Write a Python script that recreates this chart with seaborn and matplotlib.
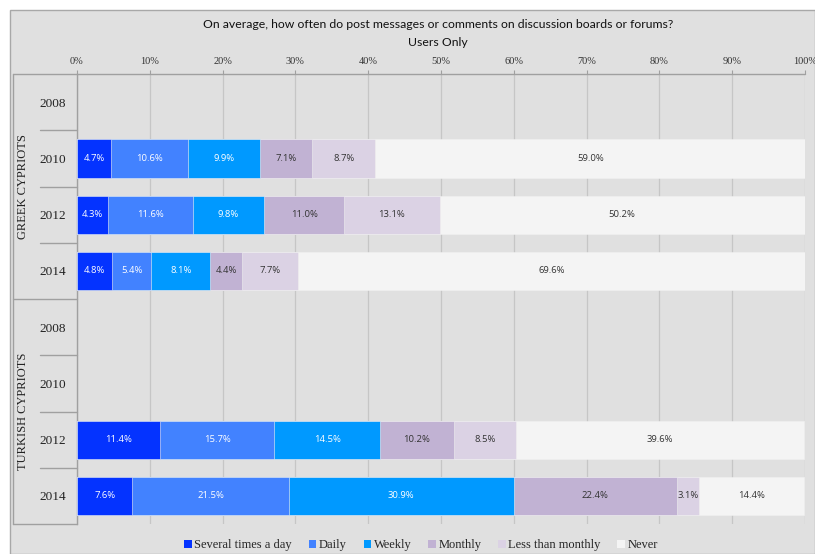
import matplotlib
matplotlib.use("Agg")
import matplotlib.pyplot as plt
from matplotlib.patches import Patch, Rectangle
from matplotlib.lines import Line2D
import numpy as np
import pandas as pd
import seaborn as sns

# ---- data ----
groups = ["GREEK CYPRIOTS", "TURKISH CYPRIOTS"]
years = ["2008", "2010", "2012", "2014"]
categories = ["Several times a day", "Daily", "Weekly", "Monthly",
              "Less than monthly", "Never"]
colors = ["#0433ff", "#4282ff", "#0099ff", "#c1b2d3", "#dbd2e4", "#f4f4f4"]

gc_2010 = [4.7, 10.6, 9.9, 7.1, 8.7, 59.0]
gc_2012 = [4.3, 11.6, 9.8, 11.0, 13.1, 50.2]
gc_2014 = [4.8, 5.4, 8.1, 4.4, 7.7, 69.6]
tc_2012 = [11.4, 15.7, 14.5, 10.2, 8.5, 39.6]
tc_2014 = [7.6, 21.5, 30.9, 22.4, 3.1, 14.4]

series = {
    ("GREEK CYPRIOTS", "2010"): gc_2010,
    ("GREEK CYPRIOTS", "2012"): gc_2012,
    ("GREEK CYPRIOTS", "2014"): gc_2014,
    ("TURKISH CYPRIOTS", "2012"): tc_2012,
    ("TURKISH CYPRIOTS", "2014"): tc_2014,
}

row_keys = [f"{g}|{y}" for g in groups for y in years]

records = []
for (g, y), vals in series.items():
    cum = np.cumsum(vals)
    for i, c in enumerate(categories):
        records.append({"row": f"{g}|{y}", "category": c, "value": vals[i],
                        "left": cum[i] - vals[i], "cum": cum[i]})
df = pd.DataFrame(records)

# ---- figure ----
sns.set_theme(style="white")
W, H = 815, 554
fig = plt.figure(figsize=(W / 100, H / 100), dpi=100)
fig.patch.set_facecolor("white")
bg = "#e0e0e0"
fig.patches.append(Rectangle((10 / W, 0), 1 - 10 / W, 1 - 10 / H,
                             transform=fig.transFigure, facecolor=bg,
                             edgecolor="#a8a8a8", linewidth=1.0, zorder=-5))

ax = fig.add_axes([77 / W, 1 - 524 / H, (805 - 77) / W, (524 - 74) / H])
ax.set_facecolor(bg)

# stacked bars: draw cumulative totals from the last category back to the first
for c, col in reversed(list(zip(categories, colors))):
    sub = df[df["category"] == c]
    sns.barplot(data=sub, x="cum", y="row", order=row_keys, orient="h",
                color=col, saturation=1, width=0.68, errorbar=None,
                edgecolor="#f0f0f0", linewidth=0.4, ax=ax, zorder=3)

# value labels
for _, r in df.iterrows():
    yi = row_keys.index(r["row"])
    ci = categories.index(r["category"])
    tc = "white" if ci < 3 else "#333333"
    ax.text(r["left"] + r["value"] / 2, yi, f"{r['value']:.1f}%",
            ha="center", va="center", fontsize=6.8, color=tc,
            family="Open Sans", zorder=5)

ax.set_xlim(0, 100)
ax.set_ylim(len(row_keys) - 0.5, -0.5)
ax.set_xticks(np.arange(0, 101, 10))
ax.set_xticklabels([f"{v}%" for v in range(0, 101, 10)],
                   family="Liberation Serif", fontsize=7.5, color="#333333")
ax.xaxis.tick_top()
ax.tick_params(axis="x", direction="out", length=3, width=0.8,
               color="#a0a0a0", pad=3, top=True, bottom=False)
ax.grid(axis="x", color="#c6c6c6", linewidth=0.9, zorder=0)
ax.set_axisbelow(True)

ax.set_yticks(range(len(row_keys)))
ax.set_yticklabels([k.split("|")[1] for k in row_keys],
                   family="Liberation Serif", fontsize=9.5, color="#222222")
ax.tick_params(axis="y", length=0, pad=8)
ax.set_xlabel("")
ax.set_ylabel("")

for s in ["right", "bottom", "top"]:
    ax.spines[s].set_visible(False)
ax.spines["left"].set_color("#a0a0a0")
ax.spines["left"].set_linewidth(1.0)

# category frame lines to the left of the plot
line_kw = dict(color="#a0a0a0", linewidth=1.0, transform=fig.transFigure)
def fy(py):
    return 1 - py / H
fig.add_artist(Line2D([13 / W, 805 / W], [fy(74), fy(74)], **line_kw))
fig.add_artist(Line2D([13 / W, 13 / W], [fy(74), fy(524)], **line_kw))
row_h = (524 - 74) / len(row_keys)
for i in range(1, len(row_keys) + 1):
    py = 74 + i * row_h
    x0 = 13 if i % len(years) == 0 else 40
    fig.add_artist(Line2D([x0 / W, 77 / W], [fy(py), fy(py)], **line_kw))

for gi, g in enumerate(groups):
    cy = 74 + (gi * len(years) + len(years) / 2) * row_h
    fig.text(23 / W, fy(cy), g, rotation=90, ha="center", va="center",
             family="Liberation Serif", fontsize=9, color="#222222")

# title
title_font = dict(ha="center", va="center", fontsize=8.8, family="Lato",
                  color="#111111")
fig.text(438 / W, fy(25), "On average, how often do post messages or comments on discussion boards or forums?",
         **title_font)
fig.text(438 / W, fy(42), "Users Only", **title_font)

# legend
handles = [Patch(facecolor=c, edgecolor="none", label=l)
           for l, c in zip(categories, colors)]
fig.legend(handles=handles, loc="center", bbox_to_anchor=(421 / W, fy(545)),
           ncol=6, frameon=False, handlelength=0.6, handleheight=0.6,
           handletextpad=0.2, columnspacing=1.35,
           prop={"family": "Liberation Serif", "size": 9})

fig.savefig("out.png", dpi=100, facecolor=fig.get_facecolor())
